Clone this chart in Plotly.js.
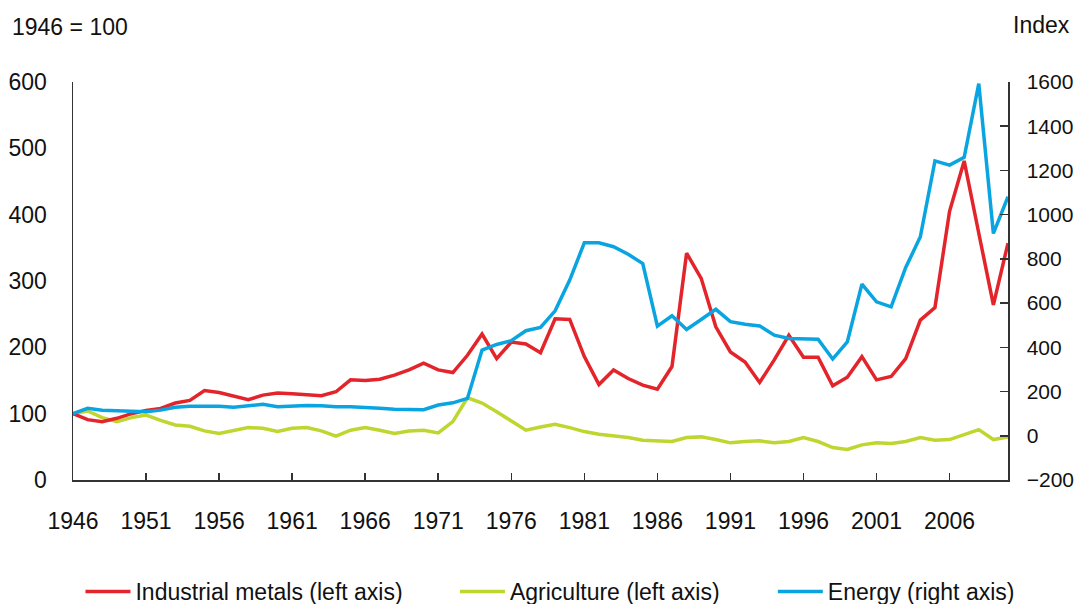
<!DOCTYPE html>
<html>
<head>
<meta charset="utf-8">
<script src="https://cdn.plot.ly/plotly-3.0.1.min.js"></script>
<style>
  html, body { margin: 0; padding: 0; background: #fff; }
  #chart { width: 1077px; height: 604px; }
</style>
</head>
<body>
<div id="chart"></div>
<script>
// ---- Data ----
const years = [];
for (let y = 1946; y <= 2010; y++) years.push(y);

const industrialMetals = [
  100, 91, 88, 93, 100, 105, 108, 116, 120, 135,
  132, 127, 121, 128, 131, 130, 128, 127, 133, 151,
  150, 152, 158, 166, 176, 166, 162, 188, 220, 183,
  208, 205, 192, 243, 242, 186, 144, 166, 153, 143,
  137, 171, 342, 304, 231, 193, 178, 147, 181, 218,
  185, 185, 142, 155, 186, 151, 156, 183, 241, 260,
  405, 481, 372, 264, 357
];

const agriculture = [
  100, 104, 94, 88, 94, 98, 90, 83, 81, 74,
  70, 74, 79, 78, 73, 78, 79, 74, 66, 75,
  79, 75, 70, 74, 75, 71, 88, 124, 116, 103,
  89, 75, 80, 84, 79, 73, 69, 67, 64, 60,
  59, 58, 64, 65, 61, 56, 58, 59, 56, 58,
  64, 58, 49, 46, 53, 56, 55, 58, 64, 60,
  61, 69, 76, 61, 65
];

const energy = [
  100, 124, 116, 113, 113, 109, 116, 129, 134, 134,
  134, 129, 135, 142, 131, 134, 137, 136, 131, 131,
  129, 124, 120, 118, 118, 139, 149, 169, 388, 413,
  430, 475, 490, 565, 704, 873, 873, 855, 821, 779,
  496, 543, 481, 526, 572, 516, 504, 497, 455, 440,
  437, 437, 347, 425, 686, 606, 583, 761, 900, 1243,
  1224, 1259, 1593, 915, 1081
];

const xTickVals = [1946, 1951, 1956, 1961, 1966, 1971, 1976, 1981, 1986, 1991, 1996, 2001, 2006];
const xTickText = xTickVals.map(String);
const leftTicks = [0, 100, 200, 300, 400, 500, 600];
const rightTicks = [-200, 0, 200, 400, 600, 800, 1000, 1200, 1400, 1600];

const seriesNames = ['Industrial metals (left axis)', 'Agriculture (left axis)', 'Energy (right axis)'];
const colors = ['#e3242b', '#bfd630', '#0aa5e0'];

// ---- Plot ----
const FONT = 'Liberation Sans, Arial, sans-serif';
const FS = 23;
const AX = '#333333';

const traces = [
  { x: years, y: industrialMetals, name: seriesNames[0], type: 'scatter', mode: 'lines',
    line: { color: colors[0], width: 3.5 }, yaxis: 'y', legend: 'legend' },
  { x: years, y: agriculture, name: seriesNames[1], type: 'scatter', mode: 'lines',
    line: { color: colors[1], width: 3.5 }, yaxis: 'y', legend: 'legend2' },
  { x: years, y: energy, name: seriesNames[2], type: 'scatter', mode: 'lines',
    line: { color: colors[2], width: 3.5 }, yaxis: 'y2', legend: 'legend3' }
];

// Draw agriculture first so red & blue appear on top like the reference
const ordered = [traces[1], traces[0], traces[2]];

const legendBase = {
  orientation: 'h', yanchor: 'middle', y: -0.28, xanchor: 'left',
  font: { family: FONT, size: FS, color: '#111' },
  bgcolor: 'rgba(0,0,0,0)', itemwidth: 45, tracegroupgap: 0
};

const layout = {
  width: 1077, height: 604,
  margin: { l: 73, r: 69, t: 82, b: 124, pad: 0, autoexpand: false },
  paper_bgcolor: '#fff', plot_bgcolor: '#fff',
  font: { family: FONT, size: FS, color: '#111' },
  showlegend: true,
  xaxis: {
    range: [1946, 2010], tickvals: xTickVals, ticktext: xTickText,
    ticks: 'inside', ticklen: 7, tickwidth: 1.5, tickcolor: AX,
    showline: true, linecolor: AX, linewidth: 1.5, mirror: false,
    showgrid: false, zeroline: false,
    tickfont: { family: FONT, size: FS, color: '#111' },
    ticklabelstandoff: 20
  },
  yaxis: {
    range: [0, 600], tickvals: leftTicks,
    ticks: '', showline: true, linecolor: AX, linewidth: 1.5,
    showgrid: false, zeroline: false,
    tickfont: { family: FONT, size: FS, color: '#111' },
    ticklabelstandoff: 20
  },
  yaxis2: {
    range: [-200, 1600], tickvals: rightTicks, overlaying: 'y', side: 'right',
    ticks: 'inside', ticklen: 8, tickwidth: 1.5, tickcolor: AX,
    showline: true, linecolor: AX, linewidth: 1.5,
    showgrid: false, zeroline: false,
    tickfont: { family: FONT, size: 21, color: '#111' },
    ticklabelstandoff: 13
  },
  legend: Object.assign({}, legendBase, { x: 0.008 }),
  legend2: Object.assign({}, legendBase, { x: 0.4085 }),
  legend3: Object.assign({}, legendBase, { x: 0.7485 }),
  annotations: [
    { text: '1946 = 100', xref: 'paper', yref: 'paper', x: -0.0674, y: 1.138,
      xanchor: 'left', yanchor: 'middle', showarrow: false,
      font: { family: FONT, size: FS, color: '#111' } },
    { text: 'Index', xref: 'paper', yref: 'paper', x: 1.0684, y: 1.143,
      xanchor: 'right', yanchor: 'middle', showarrow: false,
      font: { family: FONT, size: FS, color: '#111' } }
  ]
};

Plotly.newPlot('chart', ordered, layout, { displayModeBar: false, staticPlot: true });
</script>
</body>
</html>
